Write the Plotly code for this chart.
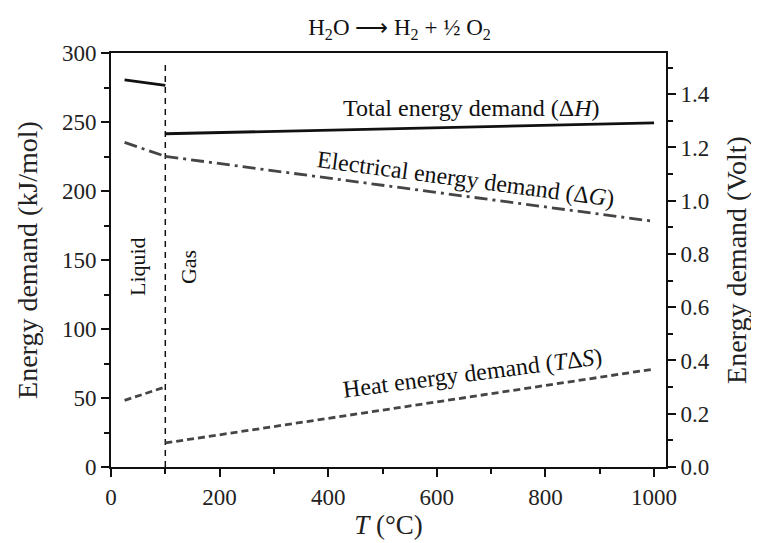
import plotly.graph_objects as go

# Data
t_liq = [25, 100]
t_gas = [100, 1000]
dH_liq = [280.5, 276.5]
dH_gas = [241.5, 249.3]
dG_liq = [235.2, 225.1]
dG_gas = [225.1, 178.0]
TdS_liq = [48.3, 58.0]
TdS_gas = [17.4, 71.0]
phase_x = [100, 100]
phase_y = [0, 295]

F2 = 2 * 96.485  # kJ/(mol V)
font_fam = "Liberation Serif"
ink = "#111111"
gray = "#454545"

# the page body has an 8px margin; size the figure to fit the window
W, H, OFF = 751, 535, 8

fig = go.Figure()

def add_line(x, y, color, dash, width):
    fig.add_trace(go.Scatter(x=x, y=y, mode="lines", showlegend=False,
                             line=dict(color=color, dash=dash, width=width)))

add_line(phase_x, phase_y, ink, "6px,5px", 1.5)
add_line(t_liq, dH_liq, ink, "solid", 2.8)
add_line(t_gas, dH_gas, ink, "solid", 2.8)
add_line(t_liq, dG_liq, gray, "13px,5px,3px,5px", 2.8)
add_line(t_gas, dG_gas, gray, "13px,5px,3px,5px", 2.8)
add_line(t_liq, TdS_liq, gray, "7px,4px", 2.8)
add_line(t_gas, TdS_gas, gray, "7px,4px", 2.8)
# trace on secondary (Volt) axis so it is rendered
fig.add_trace(go.Scatter(x=[0], y=[0], yaxis="y2", showlegend=False,
                         mode="markers", marker=dict(opacity=0),
                         hoverinfo="skip"))

ann_font = dict(family=font_fam, size=24, color=ink)
annotations = [
    dict(x=663, y=260.4, text="Total energy demand (Δ<i>H</i>)", textangle=0),
    dict(x=653.5, y=209, text="Electrical energy demand (Δ<i>G</i>)", textangle=7.6),
    dict(x=665.5, y=67.8, text="Heat energy demand (<i>T</i>Δ<i>S</i>)", textangle=-7.4),
]
for a in annotations:
    fig.add_annotation(xref="x", yref="y", showarrow=False, font=ann_font,
                       xanchor="center", yanchor="middle", **a)
phase_font = dict(family=font_fam, size=22, color=ink)
for a in [dict(x=50, y=145, text="Liquid"), dict(x=144, y=145, text="Gas")]:
    fig.add_annotation(xref="x", yref="y", showarrow=False, font=phase_font,
                       xanchor="center", yanchor="middle", textangle=-90, **a)

axis_common = dict(showline=True, linecolor=ink, linewidth=2, showgrid=False,
                   zeroline=False, ticks="outside", ticklen=8, tickwidth=1.5,
                   tickcolor=ink, automargin=False,
                   tickfont=dict(family=font_fam, size=23, color="#222"))
title_font = dict(family=font_fam, size=28, color="#222")

fig.update_layout(
    width=W, height=H,
    margin=dict(l=111 - OFF, r=93, t=53 - OFF, b=76, autoexpand=False),
    plot_bgcolor="white", paper_bgcolor="white",
    title=dict(text="H<sub>2</sub>O ⟶ H<sub>2</sub> + ½ O<sub>2</sub>",
               x=(399.5 - OFF) / W, xanchor="center", y=1 - (27 - OFF) / H,
               yanchor="middle", font=dict(family=font_fam, size=23, color=ink)),
    xaxis=dict(range=[0, 1022], dtick=200, tick0=0, mirror=True,
               minor=dict(dtick=100, ticks="outside", ticklen=5, tickcolor=ink),
               title=dict(text="<i>T</i> (°C)", standoff=0,
                          font=dict(family=font_fam, size=27, color="#222")),
               **axis_common),
    yaxis=dict(range=[0, 300], dtick=50, tick0=0,
               minor=dict(dtick=25, ticks="outside", ticklen=5, tickcolor=ink),
               title=dict(text="Energy demand (kJ/mol)", standoff=16, font=title_font),
               **axis_common),
    yaxis2=dict(range=[0, 300 / F2], dtick=0.2, tick0=0, tickformat=".1f",
                overlaying="y", side="right",
                minor=dict(dtick=0.1, ticks="outside", ticklen=5, tickcolor=ink),
                title=dict(text="Energy demand (Volt)", standoff=18, font=title_font),
                **axis_common),
)

fig.write_html("out.html")
